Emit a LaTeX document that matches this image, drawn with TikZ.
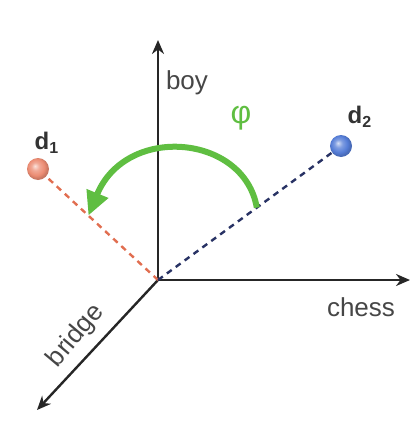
\documentclass[tikz,border=0pt]{standalone}
\usepackage{fontspec}
\setmainfont{Liberation Sans}
\usetikzlibrary{arrows.meta, calc}

\definecolor{axisgray}{RGB}{70,70,70}
\definecolor{phigreen}{RGB}{95,190,65}
\definecolor{redball}{RGB}{236,140,115}
\definecolor{blueball}{RGB}{85,125,215}
\definecolor{reddash}{RGB}{225,110,80}
\definecolor{bluedash}{RGB}{40,50,100}

% soft spheres for the two documents
\pgfdeclareradialshading{redsphere}{\pgfpoint{-7bp}{7bp}}{%
  color(0bp)=(redball!25!white); color(9bp)=(redball!75!white);
  color(19bp)=(redball); color(25bp)=(redball!85!black);
  color(50bp)=(redball!85!black)}
\pgfdeclareradialshading{bluesphere}{\pgfpoint{-7bp}{7bp}}{%
  color(0bp)=(blueball!25!white); color(9bp)=(blueball!75!white);
  color(19bp)=(blueball); color(25bp)=(blueball!85!black);
  color(50bp)=(blueball!85!black)}

\tikzset{
  axis/.style={line width=1.2pt, -{Stealth[length=7pt, width=6pt]}, black!85},
  axislabel/.style={text=axisgray, font=\fontsize{13}{15}\selectfont},
  doc/.style={circle, minimum size=11pt, inner sep=0pt},
  doclabel/.style={text=black!80, font=\fontsize{12}{14}\selectfont\bfseries},
  vecline/.style={line width=1.2pt, dash pattern=on 3pt off 2.5pt}
}

\begin{document}
\begin{tikzpicture}[x=0.5pt, y=-0.5pt]
  \useasboundingbox (0,0) rectangle (413,439);

  % Axes
  \coordinate (o) at (158,280);
  \coordinate (boyend) at (158,40);
  \coordinate (chessend) at (410,280);
  \coordinate (bridgeend) at (37,410);
  \draw[axis] (o) -- (boyend);
  \draw[axis] (o) -- (chessend);
  \draw[axis] (o) -- (bridgeend);

  \node[axislabel] (boy) at (187,83) {boy};
  \node[axislabel] (chess) at (361,307) {chess};
  \node[axislabel, rotate=50] (bridge) at (76,336) {bridge};

  % Documents
  \node[doc, shading=redsphere] (d1) at (38,169) {};
  \node[doc, shading=bluesphere] (d2) at (341,146) {};
  \node[doclabel] (d1lab) at (47,143) {d$_\mathbf{1}$};
  \node[doclabel] (d2lab) at (360,117) {d$_\mathbf{2}$};

  % Document vectors
  \draw[vecline, reddash] (o) -- (d1);
  \draw[vecline, bluedash] (o) -- (d2);

  % Angle
  \coordinate (phistart) at ($(o)!0.54!(d2)$);
  \coordinate (phiend) at ($(o)!0.58!(d1)$);
  \draw[phigreen, line width=3pt, -{Triangle[length=12pt, width=11pt]}]
    (phistart) .. controls (244,134) and (126,124) .. (phiend);
  \node[text=phigreen, font=\fontsize{16}{18}\selectfont] (phi) at (241,118) {φ};
\end{tikzpicture}
\end{document}
